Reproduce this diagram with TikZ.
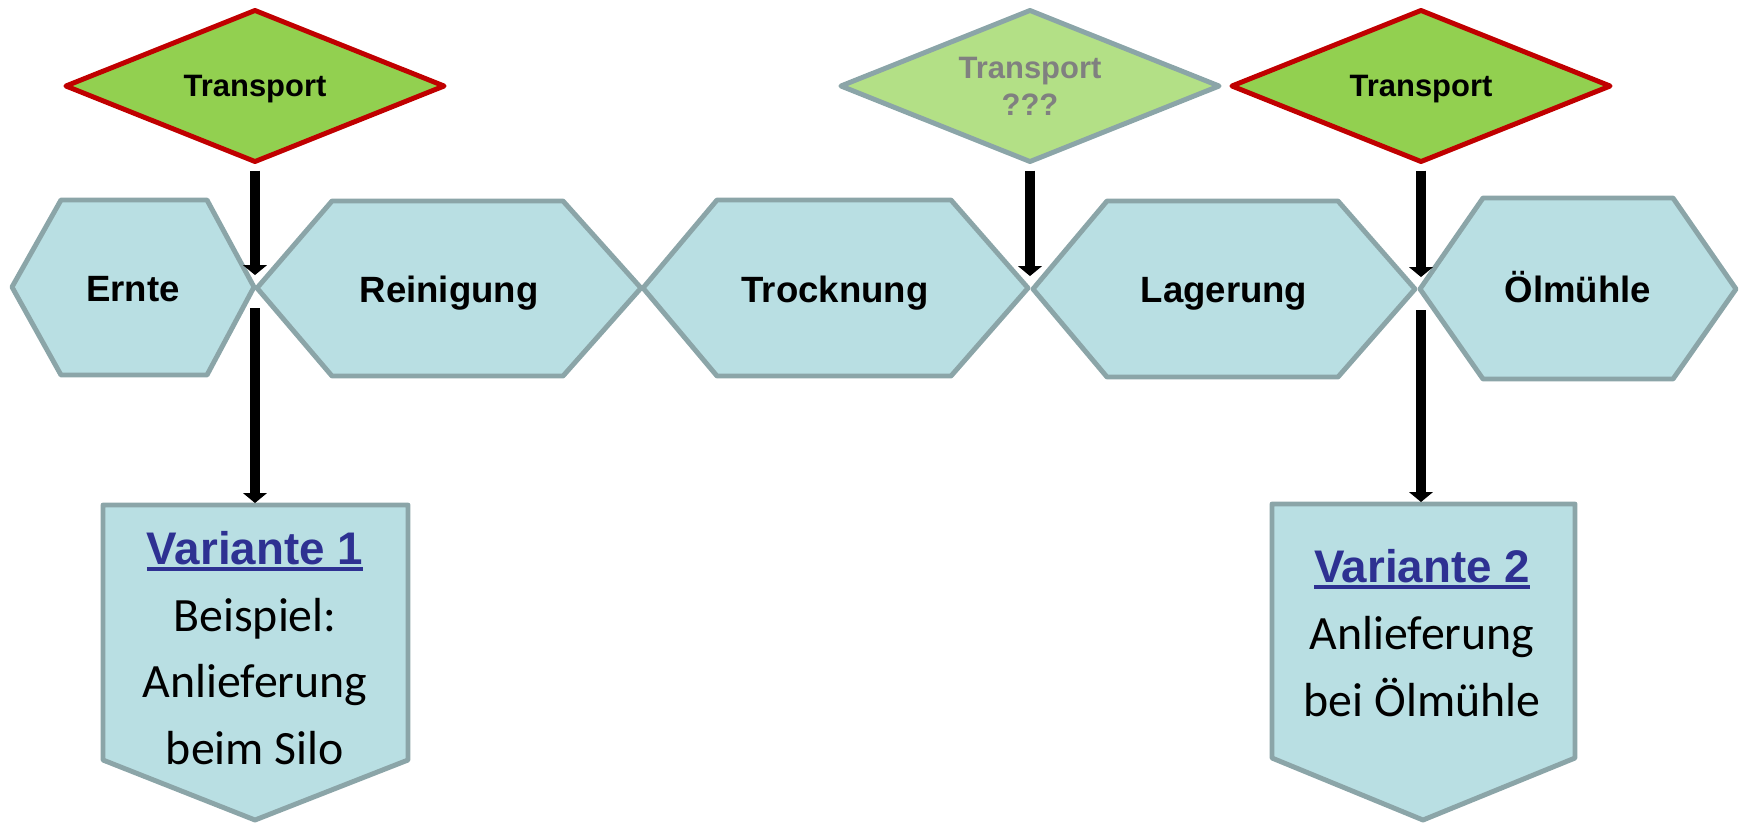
\documentclass[tikz,border=0pt]{standalone}
\usepackage{fontspec}
\setmainfont{Liberation Sans}
\newfontfamily\bodyfont{Carlito}
\usetikzlibrary{shapes.geometric, arrows.meta}
\definecolor{hexfill}{RGB}{185,223,227}
\definecolor{hexline}{RGB}{139,165,168}
\definecolor{transgreen}{RGB}{146,208,80}
\definecolor{palegreen}{RGB}{179,224,134}
\definecolor{transred}{RGB}{192,0,0}
\definecolor{varblue}{RGB}{46,49,146}
\newcommand\vartitlefont{\rmfamily\fontsize{13}{19}\selectfont\bfseries}
\newcommand\thickul[1]{\setbox0\hbox{#1}\rlap{\rule[-1.9pt]{\wd0}{1.1pt}}\box0}
\tikzset{hexa/.style={fill=hexfill, draw=hexline, line width=1.4pt, line join=round},
         steplabel/.style={anchor=base, font=\fontsize{10.4}{12}\selectfont\bfseries},
         transp/.style={diamond, shape aspect=2.5, minimum width=3.8cm, minimum height=1.53cm, inner sep=0pt,
                        fill=transgreen, draw=transred, line width=1.4pt, line join=round, align=center,
                        text depth=0pt, font=\fontsize{8.8}{10.5}\selectfont\bfseries},
         flow/.style={line width=2.8pt, -{Triangle[width=6.6pt,length=2.8pt]}},
         varlabel/.style={align=center, font=\bodyfont\fontsize{13.6}{19}\selectfont}
        }

\begin{document}
\begin{tikzpicture}[x=0.01cm, y=-0.01cm]
        \useasboundingbox (0,0) rectangle (1748,823);
        % process chain
        \draw [hexa] (12,287) -- (61,200) -- (207,200) -- (254,287) -- (207,375) -- (61,375) -- cycle;
        \node [steplabel] (ernte) at (133,301) {Ernte};
        \draw [hexa] (257,288) -- (332,201) -- (563,201) -- (641,288) -- (563,376) -- (332,376) -- cycle;
        \node [steplabel] (reinigung) at (449,302) {Reinigung};
        \draw [hexa] (643,288) -- (717,200) -- (951,200) -- (1028,288) -- (951,376) -- (717,376) -- cycle;
        \node [steplabel] (trocknung) at (835,302) {Trocknung};
        \draw [hexa] (1033,289) -- (1107,201) -- (1338,201) -- (1415,289) -- (1338,377) -- (1107,377) -- cycle;
        \node [steplabel] (lagerung) at (1224,302) {Lagerung};
        \draw [hexa] (1420,289) -- (1483,198) -- (1673,198) -- (1736,289) -- (1673,379) -- (1483,379) -- cycle;
        \node [steplabel] (oelmuehle) at (1578,302) {Ölmühle};
        \coordinate (j1) at (255,287);
        \coordinate (j2) at (1030,288);
        \coordinate (j3) at (1421,289);
        % transport steps
        \node [transp] (t1) at (255,86) {Transport};
        \node [transp, fill=palegreen, draw=hexline, text=gray] (t2) at (1030,86) {Transport\\???};
        \node [transp] (t3) at (1421,86) {Transport};
        % variants
        \draw [hexa] (103,505) -- (408,505) -- (408,760) -- (255,820) -- (103,760) -- cycle;
        \coordinate (v1) at (255,503);
        \node [varlabel] (var1) at (255,648) {{\vartitlefont\color{varblue}\thickul{Variante 1}}\\Beispiel:\\Anlieferung\\beim Silo};
        \draw [hexa] (1272,504) -- (1575,504) -- (1575,758) -- (1423,820) -- (1272,758) -- cycle;
        \coordinate (v2) at (1421,502);
        \node [varlabel] (var2) at (1422,633) {{\vartitlefont\color{varblue}\thickul{Variante 2}}\\Anlieferung\\bei Ölmühle};
        % connectors
        \draw [flow] ([yshift=-1.6pt]t1.south) -- ([yshift=3.4pt]j1);
        \draw [flow] ([yshift=-1.6pt]t2.south) -- ([yshift=3.4pt]j2);
        \draw [flow] ([yshift=-1.6pt]t3.south) -- ([yshift=3.4pt]j3);
        \draw [flow] ([yshift=-6pt]j1) -- (v1);
        \draw [flow] ([yshift=-6pt]j3) -- (v2);
      \end{tikzpicture}
\end{document}
